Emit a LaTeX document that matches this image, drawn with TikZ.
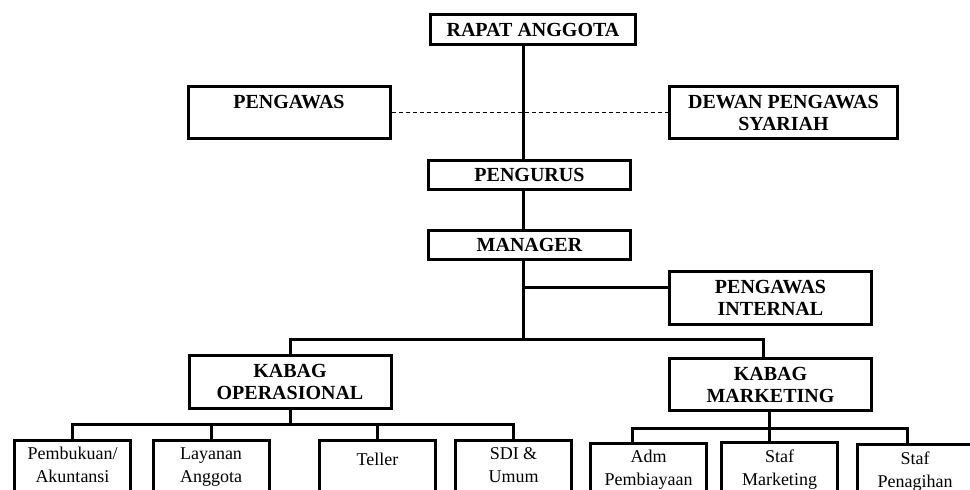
\documentclass[tikz,border=0pt]{standalone}
\usepackage{fontspec}
\setmainfont{Liberation Serif}
\usetikzlibrary{positioning}
\begin{document}
\begin{tikzpicture}[x=1pt,y=-1pt,
        box/.style={draw,line width=3pt,fill=white,align=center,inner sep=0pt,minimum width=202pt,font=\bfseries\fontsize{20}{22}\selectfont},
        staf/.style={draw,line width=3pt,fill=white,align=center,anchor=north,inner xsep=0pt,inner ysep=7pt,text depth=20pt,minimum width=116pt,font=\fontsize{18}{23}\selectfont},
        link/.style={line width=3pt,line cap=rect}]
        \path[use as bounding box,fill=white] (0,0) rectangle (970,490);
        \clip (0,0) rectangle (970,490);

        \node[box,minimum width=205pt,minimum height=30pt] (ra) at (533,29.5) {RAPAT ANGGOTA};
        \node[box,minimum height=52pt] (pw) at (289,112.5) {PENGAWAS\\\mbox{}};
        \node[box,minimum width=228pt,minimum height=52pt] (dps) at (783.5,112.5) {DEWAN PENGAWAS\\SYARIAH};
        \node[box,minimum height=29.5pt] (pg) at (529.5,175) {PENGURUS};
        \node[box,minimum height=29.5pt] (mg) at (529.5,245) {MANAGER};
        \node[box,minimum height=53pt] (pi) at (770.5,298) {PENGAWAS\\INTERNAL};
        \node[box,minimum height=53pt] (ko) at (290,382) {KABAG\\OPERASIONAL};
        \node[box,minimum height=52pt] (km) at (770.5,384.5) {KABAG\\MARKETING};

        \node[staf] (s1) at (72.5,439) {Pembukuan/\\Akuntansi};
        \node[staf] (s2) at (211,439) {Layanan\\Anggota};
        \node[staf] (s3) at (377.5,439) {\raisebox{-6pt}[12.3pt][0pt]{Teller}\\\phantom{Ag}};
        \node[staf] (s4) at (513.5,439) {SDI \&\\Umum};
        \node[staf] (s5) at (648.5,442) {Adm\\Pembiayaan};
        \node[staf] (s6) at (779.5,441) {Staf\\Marketing};
        \node[staf] (s7) at (915,443) {Staf\\Penagihan};

        \coordinate (sp) at (523,0);
        \coordinate (b0) at (0,287);
        \coordinate (b1) at (0,339);
        \coordinate (b2) at (0,424);
        \coordinate (b3) at (0,428);

        \draw[line width=0.8pt,dash pattern=on 4pt off 3pt] (pw.east) -- (dps.west);

        \draw[link] (ra.south -| sp) -- (pg.north -| sp);
        \draw[link] (pg.south -| sp) -- (mg.north -| sp);
        \draw[link] (mg.south -| sp) -- (sp |- b1);
        \draw[link] (sp |- b0) -- (pi.west |- b0);
        \draw[link] (ko.north) |- (sp |- b1) -| ([xshift=-7]km.north);

        \draw[link] (s1.north) |- (s4.north |- b2) -- (s4.north);
        \foreach \n in {s2,s3}
            \draw[link] (\n.north) -- (\n.north |- b2);
        \draw[link] (ko.south) -- (ko.south |- b2);

        \draw[link] ([xshift=-16]s5.north) |- ([xshift=-8]s7.north |- b3) -- ([xshift=-8]s7.north);
        \draw[link] ([xshift=-10]s6.north) -- ([xshift=-10]s6.north |- b3);
        \draw[link] ([xshift=-1.5]km.south) -- ([xshift=-1.5]km.south |- b3);
\end{tikzpicture}
\end{document}
